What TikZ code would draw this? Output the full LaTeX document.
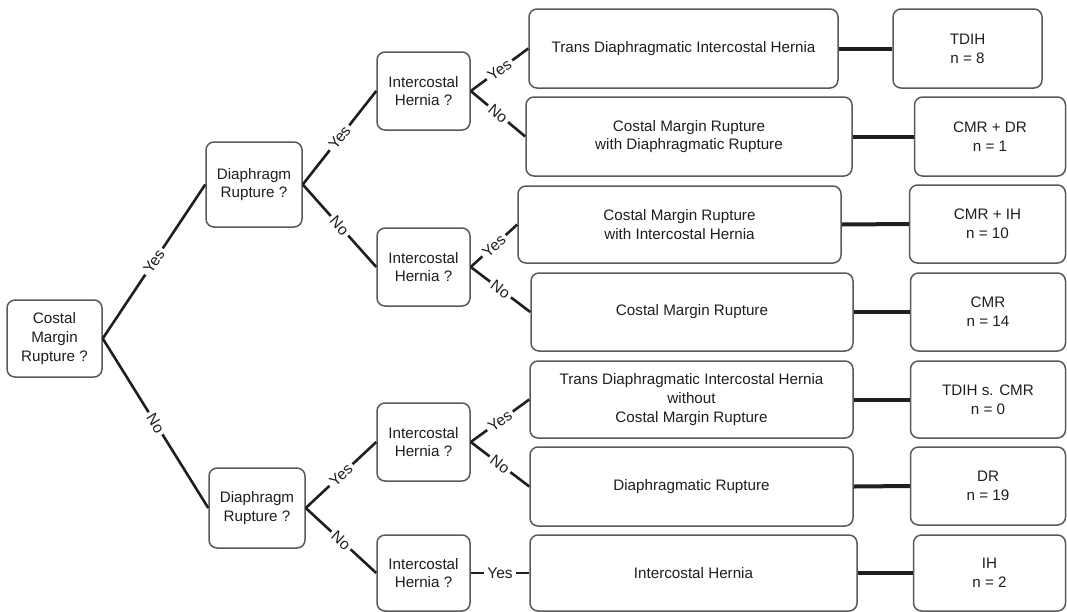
\documentclass[tikz,border=0pt]{standalone}
\usepackage{fontspec}
\setmainfont{Liberation Sans}
\begin{document}
\begin{tikzpicture}[x=1pt,y=-1pt,
  box/.style={draw=black!65, line width=1.5pt, rounded corners=8pt, fill=white,
    align=center, inner sep=2pt, font=\fontsize{15.2}{18.7}\selectfont, text=black!88},
  conn/.style={draw=black!88, line width=2.6pt},
  thick conn/.style={draw=black!88, line width=4pt},
  lbl/.style={sloped, fill=white, inner sep=3pt, font=\fontsize{15.5}{17}\selectfont, text=black!88}]
\useasboundingbox (0,0) rectangle (1067,611);
% decision nodes
\node[box, minimum width=95pt, minimum height=77pt] (A) at (54.5,338.5) {Costal\\Margin\\Rupture ?};
\node[box, minimum width=96pt, minimum height=85pt] (D1) at (254,184.5) {Diaphragm\\Rupture ?};
\node[box, minimum width=96pt, minimum height=80pt] (D2) at (257,508) {Diaphragm\\Rupture ?};
\node[box, minimum width=93pt, minimum height=78pt] (I1) at (423.5,91) {Intercostal\\Hernia ?};
\node[box, minimum width=93pt, minimum height=78pt] (I2) at (423.5,267) {Intercostal\\Hernia ?};
\node[box, minimum width=93pt, minimum height=78pt] (I3) at (423.5,442) {Intercostal\\Hernia ?};
\node[box, minimum width=93pt, minimum height=76pt] (I4) at (423.5,573) {Intercostal\\Hernia ?};
% outcome nodes
\node[box, minimum width=309pt, minimum height=79pt] (O1) at (683.5,48.5) {Trans Diaphragmatic Intercostal Hernia};
\node[box, minimum width=326pt, minimum height=79pt] (O2) at (689,136.5) {Costal Margin Rupture\\with Diaphragmatic Rupture};
\node[box, minimum width=323pt, minimum height=77pt] (O3) at (679.5,224.5) {Costal Margin Rupture\\with Intercostal Hernia};
\node[box, minimum width=322pt, minimum height=78pt] (O4) at (692,312) {Costal Margin Rupture};
\node[box, minimum width=323pt, minimum height=77pt] (O5) at (691.5,399.5) {Trans Diaphragmatic Intercostal Hernia\\without\\Costal Margin Rupture};
\node[box, minimum width=323pt, minimum height=79pt] (O6) at (691.5,486.5) {Diaphragmatic Rupture};
\node[box, minimum width=327pt, minimum height=76pt] (O7) at (693.5,573) {Intercostal Hernia};
% result nodes
\node[box, minimum width=149pt, minimum height=79pt] (R1) at (967.5,48.5) {TDIH\\n = 8};
\node[box, minimum width=151pt, minimum height=79pt] (R2) at (990,136.5) {CMR + DR\\n = 1};
\node[box, minimum width=156pt, minimum height=78pt] (R3) at (987.5,224) {CMR + IH\\n = 10};
\node[box, minimum width=155pt, minimum height=78pt] (R4) at (988,312) {CMR\\n = 14};
\node[box, minimum width=155pt, minimum height=77pt] (R5) at (988,399.5) {TDIH s. CMR\\n = 0};
\node[box, minimum width=155pt, minimum height=78pt] (R6) at (988,486) {DR\\n = 19};
\node[box, minimum width=152pt, minimum height=76pt] (R7) at (989.5,573) {IH\\n = 2};
% decision connectors
\draw[conn] (A.east) -- node[lbl]{Yes} (D1.west);
\draw[conn] (A.east) -- node[lbl]{No} (D2.west);
\draw[conn] (D1.east) -- node[lbl]{Yes} (I1.west);
\draw[conn] (D1.east) -- node[lbl]{No} (I2.west);
\draw[conn] (D2.east) -- node[lbl]{Yes} (I3.west);
\draw[conn] (D2.east) -- node[lbl]{No} (I4.west);
\draw[conn] (I1.east) -- node[lbl]{Yes} (O1.west);
\draw[conn] (I1.east) -- node[lbl]{No} (O2.west);
\draw[conn] (I2.east) -- node[lbl]{Yes} (O3.west);
\draw[conn] (I2.east) -- node[lbl]{No} (O4.west);
\draw[conn] (I3.east) -- node[lbl]{Yes} (O5.west);
\draw[conn] (I3.east) -- node[lbl]{No} (O6.west);
\draw[conn] (I4.east) -- node[lbl]{Yes} (O7.west);
% result connectors
\draw[thick conn] (O1.east) -- (R1.west);
\draw[thick conn] (O2.east) -- (R2.west);
\draw[thick conn] (O3.east) -- (R3.west);
\draw[thick conn] (O4.east) -- (R4.west);
\draw[thick conn] (O5.east) -- (R5.west);
\draw[thick conn] (O6.east) -- (R6.west);
\draw[thick conn] (O7.east) -- (R7.west);
\end{tikzpicture}
\end{document}
